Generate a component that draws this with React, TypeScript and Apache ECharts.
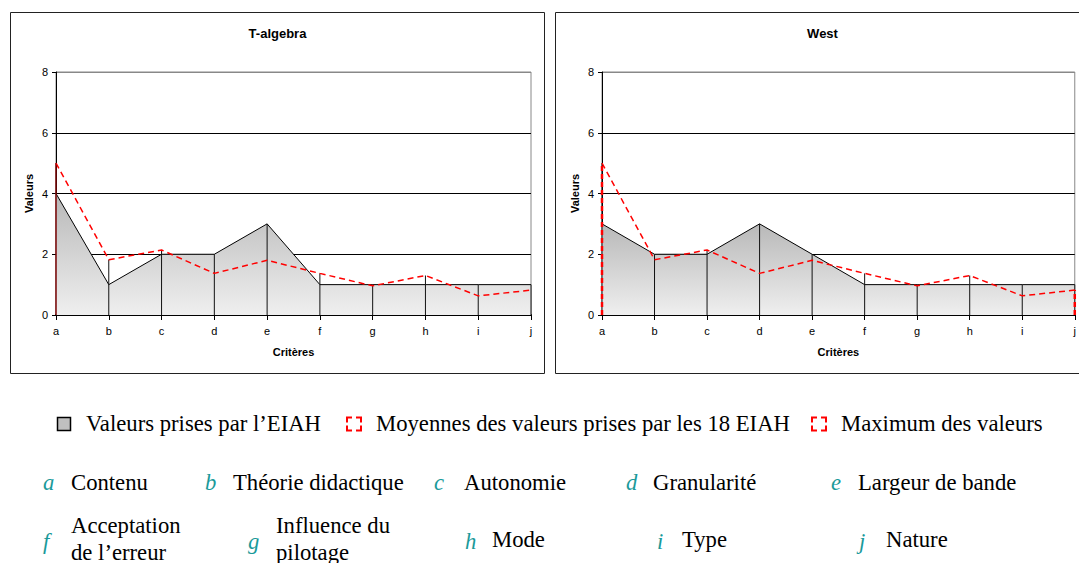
import React, { useEffect, useRef } from 'react';
import * as echarts from 'echarts';

// ---------- data ----------
const criteria = ['a', 'b', 'c', 'd', 'e', 'f', 'g', 'h', 'i', 'j'];
const criteriaNames = [
  'Contenu',
  'Théorie didactique',
  'Autonomie',
  'Granularité',
  'Largeur de bande',
  'Acceptation\nde l’erreur',
  'Influence du\npilotage',
  'Mode',
  'Type',
  'Nature',
];
const yTicks = [0, 2, 4, 6, 8];
const chartTitles = ['T-algebra', 'West'];
const tAlgebraValues = [4, 1, 2, 2, 3, 1, 1, 1, 1, 1];
const westValues = [3, 2, 2, 3, 2, 1, 1, 1, 1, 1];
const meanValues = [5, 1.82, 2.14, 1.37, 1.8, 1.37, 0.96, 1.3, 0.63, 0.82];
// "Maximum des valeurs": [category index, top value]
const tAlgebraMax = [[0, 5]];
const westMax = [[0, 5], [9, 0.82]];
const legendLabels = [
  'Valeurs prises par l’EIAH',
  'Moyennes des valeurs prises par les 18 EIAH',
  'Maximum des valeurs',
];
const xAxisName = 'Critères';
const yAxisName = 'Valeurs';

// ---------- layout ----------
const SANS = 'Liberation Sans, Arial, sans-serif';
const SERIF = 'Liberation Serif, Times New Roman, serif';
const TEAL = '#1a9a9a';
const panels = [
  { title: chartTitles[0], values: tAlgebraValues, max: tAlgebraMax, gridLeft: 56, boxX: 10.5, maxStyle: { stroke: '#b00000', lineWidth: 1, lineDash: null as any } },
  { title: chartTitles[1], values: westValues, max: westMax, gridLeft: 602, boxX: 555.5, maxStyle: { stroke: '#ff0000', lineWidth: 2.5, lineDash: [5, 3] } },
];
const GRID_TOP = 72;
const GRID_W = 475;
const GRID_H = 243;
const BOX_W = 534;

const letterRow2X = [43, 205, 434, 626, 831];
const labelRow2X = [71, 233, 464, 653, 858];
const letterRow3X = [43, 248, 465, 657, 859];
const labelRow3X = [71, 276, 492, 682, 886];
const LEG_FONT = 22.7;

function vline(params: any, api: any, style: any) {
  const x = api.value(0);
  const top = api.value(1);
  const p0 = api.coord([x, 0]);
  const p1 = api.coord([x, top]);
  return {
    type: 'line',
    shape: { x1: p0[0], y1: p0[1], x2: p1[0], y2: p1[1] },
    style: { ...style, fill: null },
  };
}

export default function App() {
  const ref = useRef<HTMLDivElement>(null);

  useEffect(() => {
    if (!ref.current) return;
    const chart = echarts.init(ref.current, null, { renderer: 'svg' });

    const grids: any[] = [];
    const xAxes: any[] = [];
    const yAxes: any[] = [];
    const series: any[] = [];
    const graphics: any[] = [];

    panels.forEach((p, k) => {
      grids.push({
        left: p.gridLeft,
        top: GRID_TOP,
        width: GRID_W,
        height: GRID_H,
        show: true,
        borderColor: '#888888',
        borderWidth: 1,
        backgroundColor: 'transparent',
      });
      xAxes.push({
        gridIndex: k,
        type: 'category',
        data: criteria,
        boundaryGap: false,
        name: xAxisName,
        nameLocation: 'middle',
        nameGap: 31,
        nameTextStyle: { fontFamily: SANS, fontSize: 11, fontWeight: 'bold', color: '#000' },
        axisLine: { lineStyle: { color: '#000', width: 2 } },
        axisTick: { show: true, length: 5, lineStyle: { color: '#000' } },
        axisLabel: { fontFamily: SANS, fontSize: 11, color: '#000', margin: 10 },
        splitLine: { show: false },
      });
      yAxes.push({
        gridIndex: k,
        type: 'value',
        min: yTicks[0],
        max: yTicks[yTicks.length - 1],
        interval: yTicks[1] - yTicks[0],
        name: yAxisName,
        nameLocation: 'middle',
        nameGap: 22,
        nameTextStyle: { fontFamily: SANS, fontSize: 11, fontWeight: 'bold', color: '#000' },
        axisLine: { show: true, lineStyle: { color: '#000', width: 1 } },
        axisTick: { show: true, length: 4, lineStyle: { color: '#000' } },
        axisLabel: { fontFamily: SANS, fontSize: 11, color: '#000', margin: 8 },
        splitLine: { show: true, lineStyle: { color: ['#000', '#000', '#000', '#000', '#888'], width: 1 } },
      });

      series.push({
        name: legendLabels[0],
        type: 'line',
        xAxisIndex: k,
        yAxisIndex: k,
        data: p.values,
        symbol: 'none',
        z: 2,
        lineStyle: { color: '#000', width: 1 },
        areaStyle: {
          opacity: 1,
          color: {
            type: 'linear', x: 0, y: 0, x2: 0, y2: 1,
            colorStops: [
              { offset: 0, color: '#b8b8b8' },
              { offset: 1, color: '#efefef' },
            ],
          },
        },
      });
      series.push({
        name: 'drop',
        type: 'custom',
        xAxisIndex: k,
        yAxisIndex: k,
        z: 3,
        data: criteria.map((_, i) => [i, Math.max(p.values[i], meanValues[i])]),
        renderItem: (params: any, api: any) => vline(params, api, { stroke: '#111', lineWidth: 1 }),
      });
      series.push({
        name: legendLabels[1],
        type: 'line',
        xAxisIndex: k,
        yAxisIndex: k,
        data: meanValues,
        symbol: 'none',
        z: 4,
        lineStyle: { color: '#ff0000', width: 1.5, type: [6, 4] },
      });
      series.push({
        name: legendLabels[2],
        type: 'custom',
        xAxisIndex: k,
        yAxisIndex: k,
        z: 5,
        data: p.max,
        renderItem: (params: any, api: any) => vline(params, api, p.maxStyle),
      });

      graphics.push({
        type: 'rect',
        shape: { x: p.boxX, y: 12.5, width: BOX_W, height: 361 },
        style: { fill: 'none', stroke: '#222', lineWidth: 1 },
        silent: true,
      });
      graphics.push({
        type: 'text',
        x: p.boxX + BOX_W / 2,
        y: 33,
        style: {
          text: p.title,
          font: `bold 13px ${SANS}`,
          fill: '#000',
          align: 'center',
          verticalAlign: 'middle',
        },
      });
    });

    // legend row 1
    const row1Y = 423;
    graphics.push({
      type: 'rect',
      shape: { x: 57.5, y: 417.5, width: 13, height: 13 },
      style: { fill: '#c0c0c0', stroke: '#000', lineWidth: 1.5 },
    });
    const redIcon = (x: number, y: number, w: number, h: number) => {
      const a = 5;
      const pts = [
        [[x, y + a], [x, y], [x + a, y]],
        [[x + w - a, y], [x + w, y], [x + w, y + a]],
        [[x + w, y + h - a], [x + w, y + h], [x + w - a, y + h]],
        [[x + a, y + h], [x, y + h], [x, y + h - a]],
      ];
      pts.forEach((pp) =>
        graphics.push({
          type: 'polyline',
          shape: { points: pp },
          style: { fill: 'none', stroke: '#ff0000', lineWidth: 2 },
        })
      );
    };
    redIcon(347, 417.5, 14, 13);
    redIcon(812, 417.5, 14, 13);
    const row1X = [86, 376, 841];
    legendLabels.forEach((t, i) => {
      graphics.push({
        type: 'text',
        x: row1X[i],
        y: row1Y,
        style: { text: t, font: `${LEG_FONT}px ${SERIF}`, fill: '#000', align: 'left', verticalAlign: 'middle' },
      });
    });

    // criteria key rows
    criteria.forEach((c, i) => {
      const row = i < 5 ? 0 : 1;
      const col = i % 5;
      const y = row === 0 ? 482 : 539;
      const lx = row === 0 ? letterRow2X[col] : letterRow3X[col];
      const tx = row === 0 ? labelRow2X[col] : labelRow3X[col];
      graphics.push({
        type: 'text',
        x: lx,
        y: y + (row === 1 ? 2 : 0),
        style: { text: c, font: `italic ${LEG_FONT}px ${SERIF}`, fill: TEAL, align: 'left', verticalAlign: 'middle' },
      });
      graphics.push({
        type: 'text',
        x: tx,
        y,
        style: {
          text: criteriaNames[i],
          font: `${LEG_FONT}px ${SERIF}`,
          lineHeight: 27,
          fill: '#000',
          align: 'left',
          verticalAlign: 'middle',
        },
      });
    });

    chart.setOption({
      animation: false,
      backgroundColor: '#ffffff',
      grid: grids,
      xAxis: xAxes,
      yAxis: yAxes,
      series,
      graphic: { elements: graphics },
    });

    return () => chart.dispose();
  }, []);

  return (
    <div
      ref={ref}
      style={{ position: 'absolute', left: 0, top: 0, width: 1079, height: 563, background: '#fff' }}
    />
  );
}
